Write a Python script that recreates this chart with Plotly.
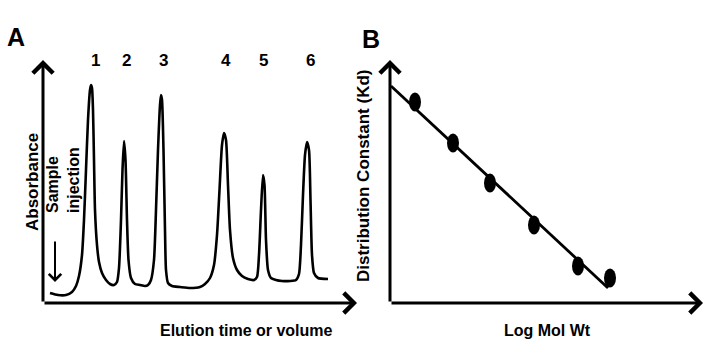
import plotly.graph_objects as go

# ---- Panel A: chromatogram trace (arbitrary units) ----
elution = [7, 15, 23, 29, 33, 36, 39, 41, 43, 45, 47, 48, 49, 50, 51, 52, 54, 56, 59, 63,
           67, 71, 74, 76, 78, 79.5, 81, 82.5, 84, 85.5, 88, 92, 97, 102, 105, 108, 111, 113,
           115, 117, 118, 119, 120.5, 122, 123, 125, 129, 137, 147, 157, 162, 167, 171, 174,
           176.5, 179, 181, 183, 185, 187, 190, 194, 199, 205, 211, 214, 216, 218, 220, 221.5,
           223, 225, 228, 233, 239, 247, 253, 256, 258, 260, 262, 264, 266, 267.5, 269, 271,
           275, 285]
absorbance = [10, 8, 8, 11, 17, 27, 48, 83, 133, 183, 213, 218, 215, 193, 143, 93, 58, 41, 30, 23,
              19, 18, 21, 35, 83, 133, 162, 143, 83, 43, 25, 19, 18, 17, 18, 23, 43, 93,
              153, 198, 208, 203, 153, 73, 33, 20, 17, 16, 15, 16, 19, 25, 38, 68,
              113, 158, 170, 163, 118, 73, 45, 33, 27, 24, 23, 26, 48, 93, 128, 118,
              63, 33, 25, 23, 22, 22, 23, 29, 58, 108, 148, 161, 153, 103, 48, 30,
              25, 24]
peak_labels = ["1", "2", "3", "4", "5", "6"]
peak_label_x = [52, 83, 120, 183, 220, 267]

# ---- Panel B: calibration points and fitted line ----
log_mw = [25, 63, 100, 144, 188, 220]
kd = [201, 160, 120, 78, 37, 25]
fit_x = [1, 218]
fit_y = [217, 15]

XMAX_A, YMAX = 314, 243
XMAX_B = 313
FONT = "Liberation Sans, Arial, sans-serif"

fig = go.Figure()

fig.add_trace(go.Scatter(
    x=elution, y=absorbance, mode="lines", xaxis="x", yaxis="y",
    line=dict(color="black", width=2.6, shape="spline", smoothing=0.6),
    hoverinfo="skip", showlegend=False))

fig.add_trace(go.Scatter(
    x=fit_x, y=fit_y, mode="lines", xaxis="x2", yaxis="y2",
    line=dict(color="black", width=2.8), hoverinfo="skip", showlegend=False))

# calibration points drawn as upright ellipses
for xv, yv in zip(log_mw, kd):
    fig.add_shape(type="circle", xref="x2", yref="y2",
                  x0=xv - 6, x1=xv + 6, y0=yv - 9.5, y1=yv + 9.5,
                  fillcolor="black", line=dict(color="black", width=0))

ann = []
# axis arrows
for xr, yr, xmax in (("x", "y", XMAX_A), ("x2", "y2", XMAX_B)):
    ann.append(dict(x=0, y=YMAX, ax=0, ay=0, xref=xr, yref=yr, axref=xr, ayref=yr,
                    showarrow=True, arrowhead=4, arrowsize=1.3, arrowwidth=3,
                    arrowcolor="black", text=""))
    ann.append(dict(x=xmax, y=0, ax=0, ay=0, xref=xr, yref=yr, axref=xr, ayref=yr,
                    showarrow=True, arrowhead=4, arrowsize=1.3, arrowwidth=3,
                    arrowcolor="black", text=""))

# sample injection arrow
ann.append(dict(x=12, y=21, ax=12, ay=63, xref="x", yref="y", axref="x", ayref="y",
                showarrow=True, arrowhead=4, arrowsize=1.2, arrowwidth=2,
                arrowcolor="black", text=""))

for lab, xv in zip(peak_labels, peak_label_x):
    ann.append(dict(x=xv, y=YMAX, xref="x", yref="y", text="<b>" + lab + "</b>",
                    showarrow=False, yanchor="middle",
                    font=dict(size=17, family=FONT, color="black")))

W, H = 710, 345
def px(x, y):
    return x / W, 1 - y / H

def text(x, y, s, size, angle=0, align="center"):
    xp, yp = px(x, y)
    ann.append(dict(x=xp, y=yp, xref="paper", yref="paper", text=s, showarrow=False,
                    textangle=angle, align=align, xanchor="center", yanchor="middle",
                    font=dict(size=size, family=FONT, color="black")))

text(16, 37, "<b>A</b>", 25)
text(371, 39, "<b>B</b>", 25)
text(32, 182, "<b>Absorbance</b>", 17, -90)
text(63, 180, "<b>Sample<br>injection</b>", 16, -90, align="left")
text(246, 330, "<b>Elution time or volume</b>", 16)
text(363, 176, "<b>Distribution Constant (Kd)</b>", 17, -90)
text(547, 330, "<b>Log Mol Wt</b>", 16)

ydom = [(H - 303) / H, (H - 60) / H]
hidden = dict(showgrid=False, zeroline=False, showticklabels=False, ticks="",
              showline=False, fixedrange=True)

fig.update_layout(
    width=W, height=H, margin=dict(l=0, r=0, t=0, b=0),
    paper_bgcolor="white", plot_bgcolor="white",
    xaxis=dict(domain=[43 / W, 357 / W], range=[0, XMAX_A], **hidden),
    yaxis=dict(domain=ydom, range=[0, YMAX], **hidden),
    xaxis2=dict(domain=[390 / W, 703 / W], range=[0, XMAX_B], anchor="y2", **hidden),
    yaxis2=dict(domain=ydom, range=[0, YMAX], anchor="x2", **hidden),
    annotations=ann,
)

fig.write_html("out.html")
